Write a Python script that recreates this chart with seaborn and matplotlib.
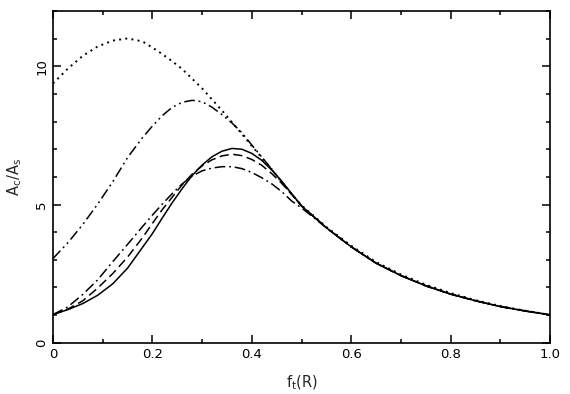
import pandas as pd
import seaborn as sns
import matplotlib.pyplot as plt
from matplotlib.ticker import MultipleLocator

# values
x = [0, 0.03, 0.06, 0.09, 0.12, 0.15, 0.18,
     0.20, 0.22, 0.24, 0.26, 0.28, 0.30, 0.32, 0.34, 0.36, 0.38, 0.40, 0.42,
     0.44, 0.46, 0.48, 0.50,
     0.55, 0.60, 0.65, 0.70, 0.75, 0.80, 0.85, 0.90, 0.95, 1.0]

# common tail (x >= 0.55)
tail = [4.16, 3.47, 2.88, 2.43, 2.06, 1.76, 1.52, 1.31, 1.15, 1.01]
tail_dot = [4.19, 3.51, 2.92, 2.47, 2.10, 1.80, 1.54, 1.33, 1.16, 1.01]

solid = [1.02, 1.20, 1.42, 1.72, 2.13, 2.70, 3.45,
         3.95, 4.52, 5.07, 5.58, 6.05, 6.43, 6.73, 6.93, 7.03, 7.00, 6.85, 6.60,
         6.25, 5.85, 5.40, 4.95] + tail
dashed = [1.02, 1.22, 1.52, 1.98, 2.50, 3.10, 3.80,
          4.32, 4.82, 5.27, 5.72, 6.10, 6.40, 6.62, 6.76, 6.82, 6.77, 6.63, 6.42,
          6.12, 5.77, 5.37, 4.95] + tail
dashdot = [1.02, 1.30, 1.75, 2.28, 2.93, 3.56, 4.20,
           4.62, 5.02, 5.40, 5.75, 6.03, 6.22, 6.32, 6.37, 6.37, 6.30, 6.16, 5.97,
           5.75, 5.47, 5.13, 4.88] + tail
dashdotdot = [3.05, 3.62, 4.28, 5.02, 5.82, 6.70, 7.42,
              7.84, 8.22, 8.52, 8.70, 8.77, 8.72, 8.52, 8.25, 7.95, 7.60, 7.15, 6.72,
              6.28, 5.82, 5.38, 4.95] + tail
dotted = [9.38, 9.92, 10.38, 10.72, 10.93, 11.01, 10.90,
          10.68, 10.44, 10.18, 9.90, 9.55, 9.20, 8.80, 8.40, 7.98, 7.55, 7.12, 6.70,
          6.28, 5.82, 5.38, 4.97] + tail_dot

series = {
    'solid': (solid, None),
    'dashed': (dashed, (6, 3)),
    'dashdot': (dashdot, (7, 2.5, 1.2, 2.5)),
    'dashdotdot': (dashdotdot, (7, 2.5, 1.2, 2.5, 1.2, 2.5)),
    'dotted': (dotted, (1, 2.2)),
}

sns.set_style('ticks')
plt.rcParams['font.family'] = ['DejaVu Sans']

fig, ax = plt.subplots(figsize=(5.7, 3.94), dpi=100)
fig.subplots_adjust(left=0.093, right=0.965, top=0.972, bottom=0.13)

for name, (vals, dash) in series.items():
    df = pd.DataFrame({'x': x, 'y': vals})
    sns.lineplot(data=df, x='x', y='y', ax=ax, color='black',
                 lw=1.4 if name == 'dotted' else 1.1,
                 estimator=None, sort=False)
    if dash is not None:
        ax.lines[-1].set_dashes(dash)

ax.set_xlim(0, 1.0)
ax.set_ylim(0, 12)
ax.set_xticks([0, 0.2, 0.4, 0.6, 0.8, 1.0])
ax.set_xticklabels(['0', '0.2', '0.4', '0.6', '0.8', '1.0'])
ax.set_yticks([0, 5, 10])
ax.xaxis.set_minor_locator(MultipleLocator(0.1))
ax.yaxis.set_minor_locator(MultipleLocator(1))
ax.tick_params(which='both', direction='in', top=True, right=True,
               labelsize=9.5, width=1.1, colors='black')
ax.tick_params(which='major', length=6)
ax.tick_params(which='minor', length=3)
for lab in ax.get_yticklabels():
    lab.set_rotation(90)
    lab.set_va('center')
for s in ax.spines.values():
    s.set_linewidth(1.2)
    s.set_color('black')

ax.set_xlabel(r'f$_\mathregular{t}$(R)', fontsize=10.5, labelpad=9)
ax.set_ylabel(r'A$_\mathregular{c}$/A$_\mathregular{s}$', fontsize=10.5, labelpad=8)

fig.savefig('out.png', dpi=100)
